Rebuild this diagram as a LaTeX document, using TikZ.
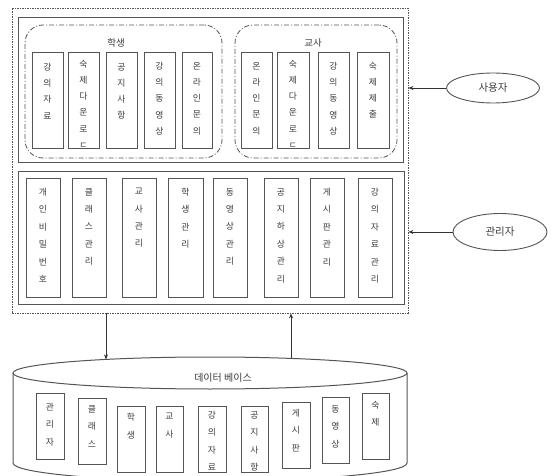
\documentclass[tikz,border=0pt]{standalone}
\usepackage{fontspec}
\newfontfamily\kr{Noto Sans CJK KR}
\usetikzlibrary{shapes.geometric,arrows.meta}
\definecolor{ln}{HTML}{555555}
\definecolor{tx}{HTML}{3C3C3C}
\definecolor{ar}{HTML}{333333}
\newcommand\colbx[7]{%
  \node[cbox, minimum width={#4-#2}, minimum height={#5-#3}] (#1) at ({(#2+#4)/2},{(#3+#5)/2}) {};
  \node[vtext] (#1t) at ({(#2+#4)/2},{#3+#6-4}) {#7};
}
\begin{document}
\begin{tikzpicture}[x=1pt,y=-1pt, font=\kr,
  cbox/.style={draw=ln, line width=0.9pt, inner sep=0pt},
  vtext/.style={text=tx, align=center, inner sep=0pt, anchor=north},
  vup/.style={font=\kr\fontsize{8.8}{16.2}\selectfont},
  vlow/.style={font=\kr\fontsize{8.8}{17.4}\selectfont},
  vdb/.style={font=\kr\fontsize{8.8}{17.5}\selectfont},
  outerbox/.style={draw=ln, line width=0.8pt, dash pattern=on 2pt off 1.2pt on 0.6pt off 1.2pt, inner sep=0pt},
  panel/.style={draw=ln, line width=1pt, inner sep=0pt},
  grp/.style={draw=ln, line width=0.8pt, rounded corners=18pt, dash pattern=on 5pt off 2pt on 1pt off 2pt, inner sep=0pt},
  lbl/.style={text=tx, font=\kr\fontsize{9.5}{10}\selectfont, inner sep=0pt},
  actor/.style={ellipse, draw=ln, line width=0.9pt, inner sep=0pt, text=tx, font=\kr\fontsize{10.5}{12}\selectfont},
  arr/.style={draw=ar, line width=0.9pt, -{Stealth[length=5pt,width=4pt]}},
  cyl/.style={draw=ln, line width=1pt}
]
\useasboundingbox (0,0) rectangle (552,476);

% outer frame and panels
\node[outerbox, minimum width=396, minimum height=305] (outer) at (210,160.5) {};
\node[panel, minimum width=385, minimum height=145] (upper) at (210.5,90.5) {};
\node[panel, minimum width=386, minimum height=132] (lower) at (211,238) {};

% groups
\node[grp, minimum width=197, minimum height=133] (gs) at (123.5,91.5) {};
\node[lbl] (gsl) at (116,43) {학생};
\node[grp, minimum width=162, minimum height=133] (gt) at (316,91.5) {};
\node[lbl] (gtl) at (313,43) {교사};

% upper columns
\begin{scope}[vup]
\colbx{s1}{32}{52}{63}{148}{15}{강\\의\\자\\료}
\colbx{s2}{68}{52}{99}{148}{12}{숙\\제\\다\\운\\로\\ㄷ}
\colbx{s3}{106}{52}{137}{148}{15}{공\\지\\사\\항}
\colbx{s4}{144}{52}{175}{148}{14}{강\\의\\동\\영\\상}
\colbx{s5}{182}{52}{212}{148}{14}{온\\라\\인\\문\\의}
\colbx{t1}{241}{52}{272}{148}{14}{온\\라\\인\\문\\의}
\colbx{t2}{277}{52}{309}{148}{12}{숙\\제\\다\\운\\로\\ㄷ}
\colbx{t3}{318}{52}{349}{148}{14}{강\\의\\동\\영\\상}
\colbx{t4}{357}{52}{389}{148}{14}{숙\\제\\제\\출}
\end{scope}

% lower columns
\begin{scope}[vlow]
\colbx{m1}{26}{178}{60}{297}{14}{개\\인\\비\\밀\\번\\호}
\colbx{m2}{72}{178}{106}{297}{14}{클\\래\\스\\관\\리}
\colbx{m3}{122}{178}{156}{297}{14}{교\\사\\관\\리}
\colbx{m4}{168}{178}{203}{297}{14}{학\\생\\관\\리}
\colbx{m5}{213}{178}{247}{297}{14}{동\\영\\상\\관\\리}
\colbx{m6}{264}{178}{298}{297}{14}{공\\지\\하\\상\\관\\리}
\colbx{m7}{310}{178}{344}{297}{14}{게\\시\\판\\관\\리}
\colbx{m8}{358}{178}{392}{297}{14}{강\\의\\자\\료\\관\\리}
\end{scope}

% actors
\node[actor, minimum width=93, minimum height=30] (user) at (493,88) {사용자};
\node[actor, minimum width=94, minimum height=37] (admin) at (500,232) {관리자};
\draw[arr] (user.west) -- (user.west -| outer.east);
\draw[arr] (admin.west) -- (admin.west -| outer.east);

% database cylinder
\begin{scope}
\clip (0,0) rectangle (552,476);
\draw[cyl] (13,373) -- (13,463) arc[start angle=180, end angle=0, x radius=197, y radius=18] -- (407,373);
\end{scope}
\node[ellipse, draw=ln, line width=1pt, minimum width=394, minimum height=32, inner sep=0pt] (dbtop) at (210,373) {};
\node[lbl, font=\kr\fontsize{10}{12}\selectfont] (dbl) at (223,378) {데이터 베이스};

\begin{scope}[vdb]
\colbx{d1}{36}{393}{64}{459}{14}{관\\리\\자}
\colbx{d2}{78}{398}{106}{464}{11}{클\\래\\스}
\colbx{d3}{117}{406}{145}{472}{11}{학\\생}
\colbx{d4}{156}{406}{183}{472}{11}{교\\사}
\colbx{d5}{198}{406}{226}{472}{9}{강\\의\\자\\료}
\colbx{d6}{241}{406}{268}{472}{9}{공\\지\\사\\항}
\colbx{d7}{282}{402}{310}{468}{11}{게\\시\\판}
\colbx{d8}{322}{397}{349}{463}{12}{동\\영\\상}
\colbx{d9}{362}{393}{389}{459}{12}{숙\\제}
\end{scope}

% connections with database
\coordinate (dbin) at (106,359.4);
\coordinate (dbout) at (291,358.4);
\draw[arr] (outer.south -| dbin) -- (dbin);
\draw[arr] (dbout) -- (dbout |- outer.south);
\end{tikzpicture}
\end{document}
